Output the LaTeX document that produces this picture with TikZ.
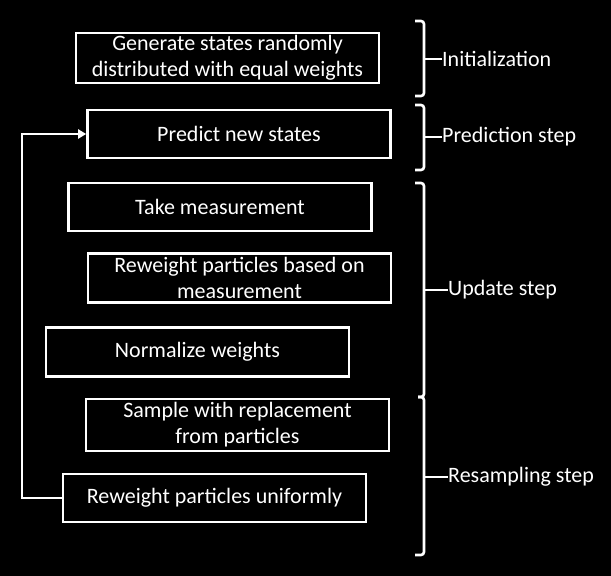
\documentclass[tikz,border=0pt]{standalone}
\usepackage{fontspec}
\setmainfont{Carlito}
\usepackage{tikz}
\usetikzlibrary{arrows.meta,positioning}
\tikzset{
  pfbox/.style={draw=white, line width=2.6pt, minimum width=303pt,
                minimum height=48pt, inner sep=0pt, align=center,
                text=white, font=\fontsize{22}{26}\selectfont},
  pflab/.style={anchor=west, inner sep=0pt, text=white,
                font=\fontsize{22}{26}\selectfont},
  pfbrk/.style={draw=white, line width=2.6pt, rounded corners=3pt},
  pfwire/.style={draw=white, line width=2.6pt},
  pfarr/.style={pfwire, -{Triangle[length=8pt,width=9pt]}}
}

\begin{document}
\begin{tikzpicture}[x=1pt, y=-1pt]
  \fill[black] (0,0) rectangle (611,576);
  \useasboundingbox (0,0) rectangle (611,576);
  \node[pfbox, minimum height=50pt] (init) at (227.5,58)
    {Generate states randomly\\distributed with equal weights};
  \node[pfbox] (pred) at (239,134) {Predict new states};
  \node[pfbox] (meas) at (220,207) {Take measurement};
  \node[pfbox, minimum height=49pt] (rew) at (239.5,278)
    {Reweight particles based on\\measurement};
  \node[pfbox, minimum height=49pt] (norm) at (197.5,352) {Normalize weights};
  \node[pfbox, minimum height=52pt] (samp) at (237.5,425)
    {Sample with replacement\\from particles};
  \node[pfbox] (unif) at (214.5,498) {Reweight particles uniformly};
  \coordinate (loop) at (22,498);
  \draw[pfarr] (unif.west) -- (loop) |- (pred.west);
  \node[pflab] (linit) at (442,59) {Initialization};
  \node[pflab] (lpred) at (442,137) {Prediction step};
  \node[pflab] (lupd) at (448,290) {Update step};
  \node[pflab] (lres) at (448,477) {Resampling step};
  \draw[pfbrk] (415,21) -- (424,21) -- (424,96) -- (415,96);
  \draw[pfbrk] (415,105) -- (424,105) -- (424,170) -- (415,170);
  \draw[pfbrk] (415,183) -- (424,183) -- (424,397) -- (418,397);
  \draw[pfbrk] (418,397) -- (424,397) -- (424,555) -- (415,555);
  \draw[pfwire] (424,59) -- (linit.west);
  \draw[pfwire] (424,137) -- (lpred.west);
  \draw[pfwire] (424,290) -- (lupd.west);
  \draw[pfwire] (424,477) -- (lres.west);
\end{tikzpicture}
\end{document}
